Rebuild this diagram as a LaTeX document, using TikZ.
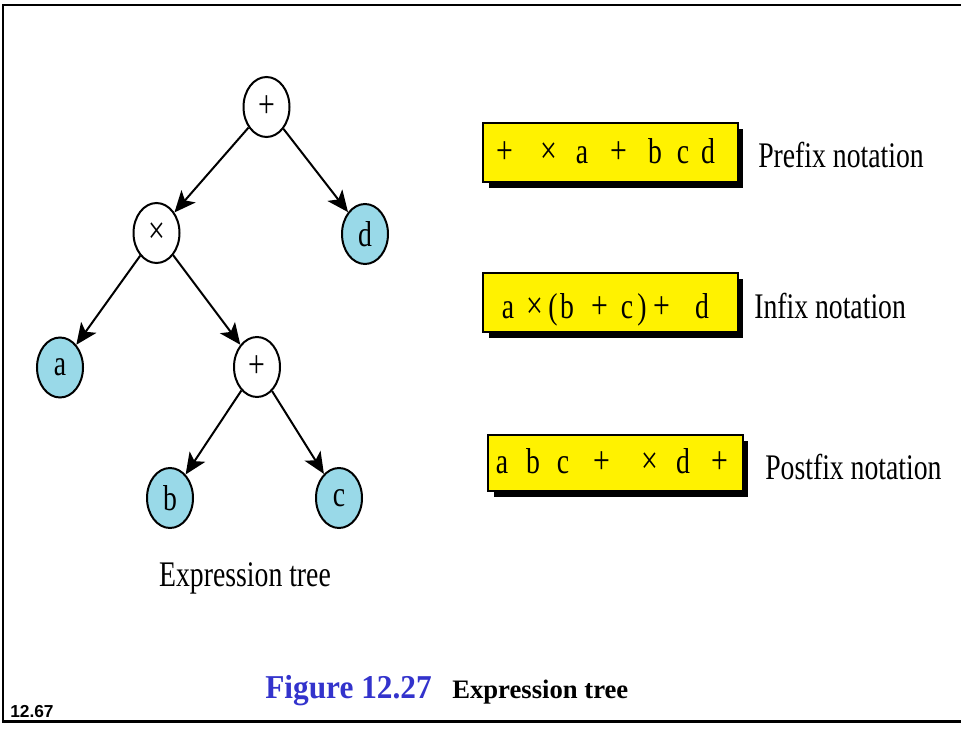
\documentclass[tikz,border=0pt]{standalone}
\usepackage{fontspec}
\setmainfont{Liberation Serif}
\newfontfamily\cond[FakeStretch=0.77]{Liberation Serif}
\newfontfamily\capt[FakeStretch=0.94]{Liberation Serif}
\newfontfamily\sansb{Liberation Sans}
\usetikzlibrary{arrows.meta,shapes.geometric,shadows}
\definecolor{leaf}{RGB}{153,217,232}
\definecolor{figblue}{RGB}{51,51,204}
\newcommand\lpar{(}
\newcommand\rpar{)}
\newcommand\bop[1]{{\fontsize{29}{33}\selectfont #1}}
\begin{document}
\begin{tikzpicture}[x=0.75pt,y=-0.75pt,
  txt/.style={font=\cond\fontsize{27}{31}\selectfont, inner sep=0pt},
  opnode/.style={ellipse, draw, line width=1.5pt, minimum width=34.5pt, minimum height=45pt, inner sep=0pt, fill=white, txt},
  leafnode/.style={opnode, fill=leaf},
  edgearrow/.style={line width=1.5pt, -{Stealth[length=16pt,width=14pt,inset=4pt]}},
  notebox/.style={draw, fill=yellow, line width=1.5pt, minimum width=191pt, inner sep=0pt,
     drop shadow={shadow xshift=4pt, shadow yshift=-4.5pt, fill=black, opacity=1}},
  ch/.style={txt, anchor=base}]
\useasboundingbox (0,0) rectangle (961,731);
% frame
\draw[line width=2.2pt, line join=miter] (961,5) -- (3,5) -- (3,721.5) -- (961,721.5);
% tree
\node[opnode] (r) at (266.5,107) {\bop{+}};
\node[opnode] (m) at (156.5,233) {\bop{×}};
\node[leafnode] (d) at (365,234) {d};
\node[opnode] (p) at (257,367) {\bop{+}};
\node[leafnode] (a) at (60,367.5) {a};
\node[leafnode] (b) at (170,498) {b};
\node[leafnode] (c) at (339,498) {c};
\draw[edgearrow] (r) -- (m);
\draw[edgearrow] (r) -- (d);
\draw[edgearrow] (m) -- (a);
\draw[edgearrow] (m) -- (p);
\draw[edgearrow] (p) -- (b);
\draw[edgearrow] (p) -- (c);
\node[txt, anchor=base] (et) at (245,586) {Expression tree};
% boxes
\node[notebox, minimum height=44.25pt] (pre) at (610.5,152.5) {};
\node[notebox, minimum height=44.25pt] (inf) at (610.5,302.5) {};
\node[notebox, minimum height=42pt] (post) at (615.5,462.5) {};
\foreach \c/\x [count=\i] in {{\bop{+}}/505,{\bop{×}}/549,a/582,{\bop{+}}/619,b/655,c/683,d/708}
  \node[ch] (pc\i) at (\x,164) {\c};
\foreach \c/\x [count=\i] in {a/508,{\bop{×}}/535,\lpar/553,b/567,{\bop{+}}/600,c/627,\rpar/642,{\bop{+}}/662,d/702}
  \node[ch] (ic\i) at (\x,319) {\c};
\foreach \c/\x [count=\i] in {a/502,b/533,c/563,{\bop{+}}/602,{\bop{×}}/650,d/683,{\bop{+}}/720}
  \node[ch] (qc\i) at (\x,473) {\c};
\node[txt, anchor=base west] (lp) at (758,168) {Prefix notation};
\node[txt, anchor=base west] (li) at (754,318) {Infix notation};
\node[txt, anchor=base west] (lq) at (765,479) {Postfix notation};
% caption
\node[anchor=base west, inner sep=0pt, text=figblue, font=\capt\bfseries\fontsize{25}{30}\selectfont] (fig) at (265,698) {Figure 12.27};
\node[anchor=base west, inner sep=0pt, font=\bfseries\fontsize{20}{24}\selectfont] (cap) at (452,698) {Expression tree};
\node[anchor=base west, inner sep=0pt, font=\sansb\bfseries\fontsize{13}{15}\selectfont] (pg) at (10,717) {12.67};
\end{tikzpicture}
\end{document}
